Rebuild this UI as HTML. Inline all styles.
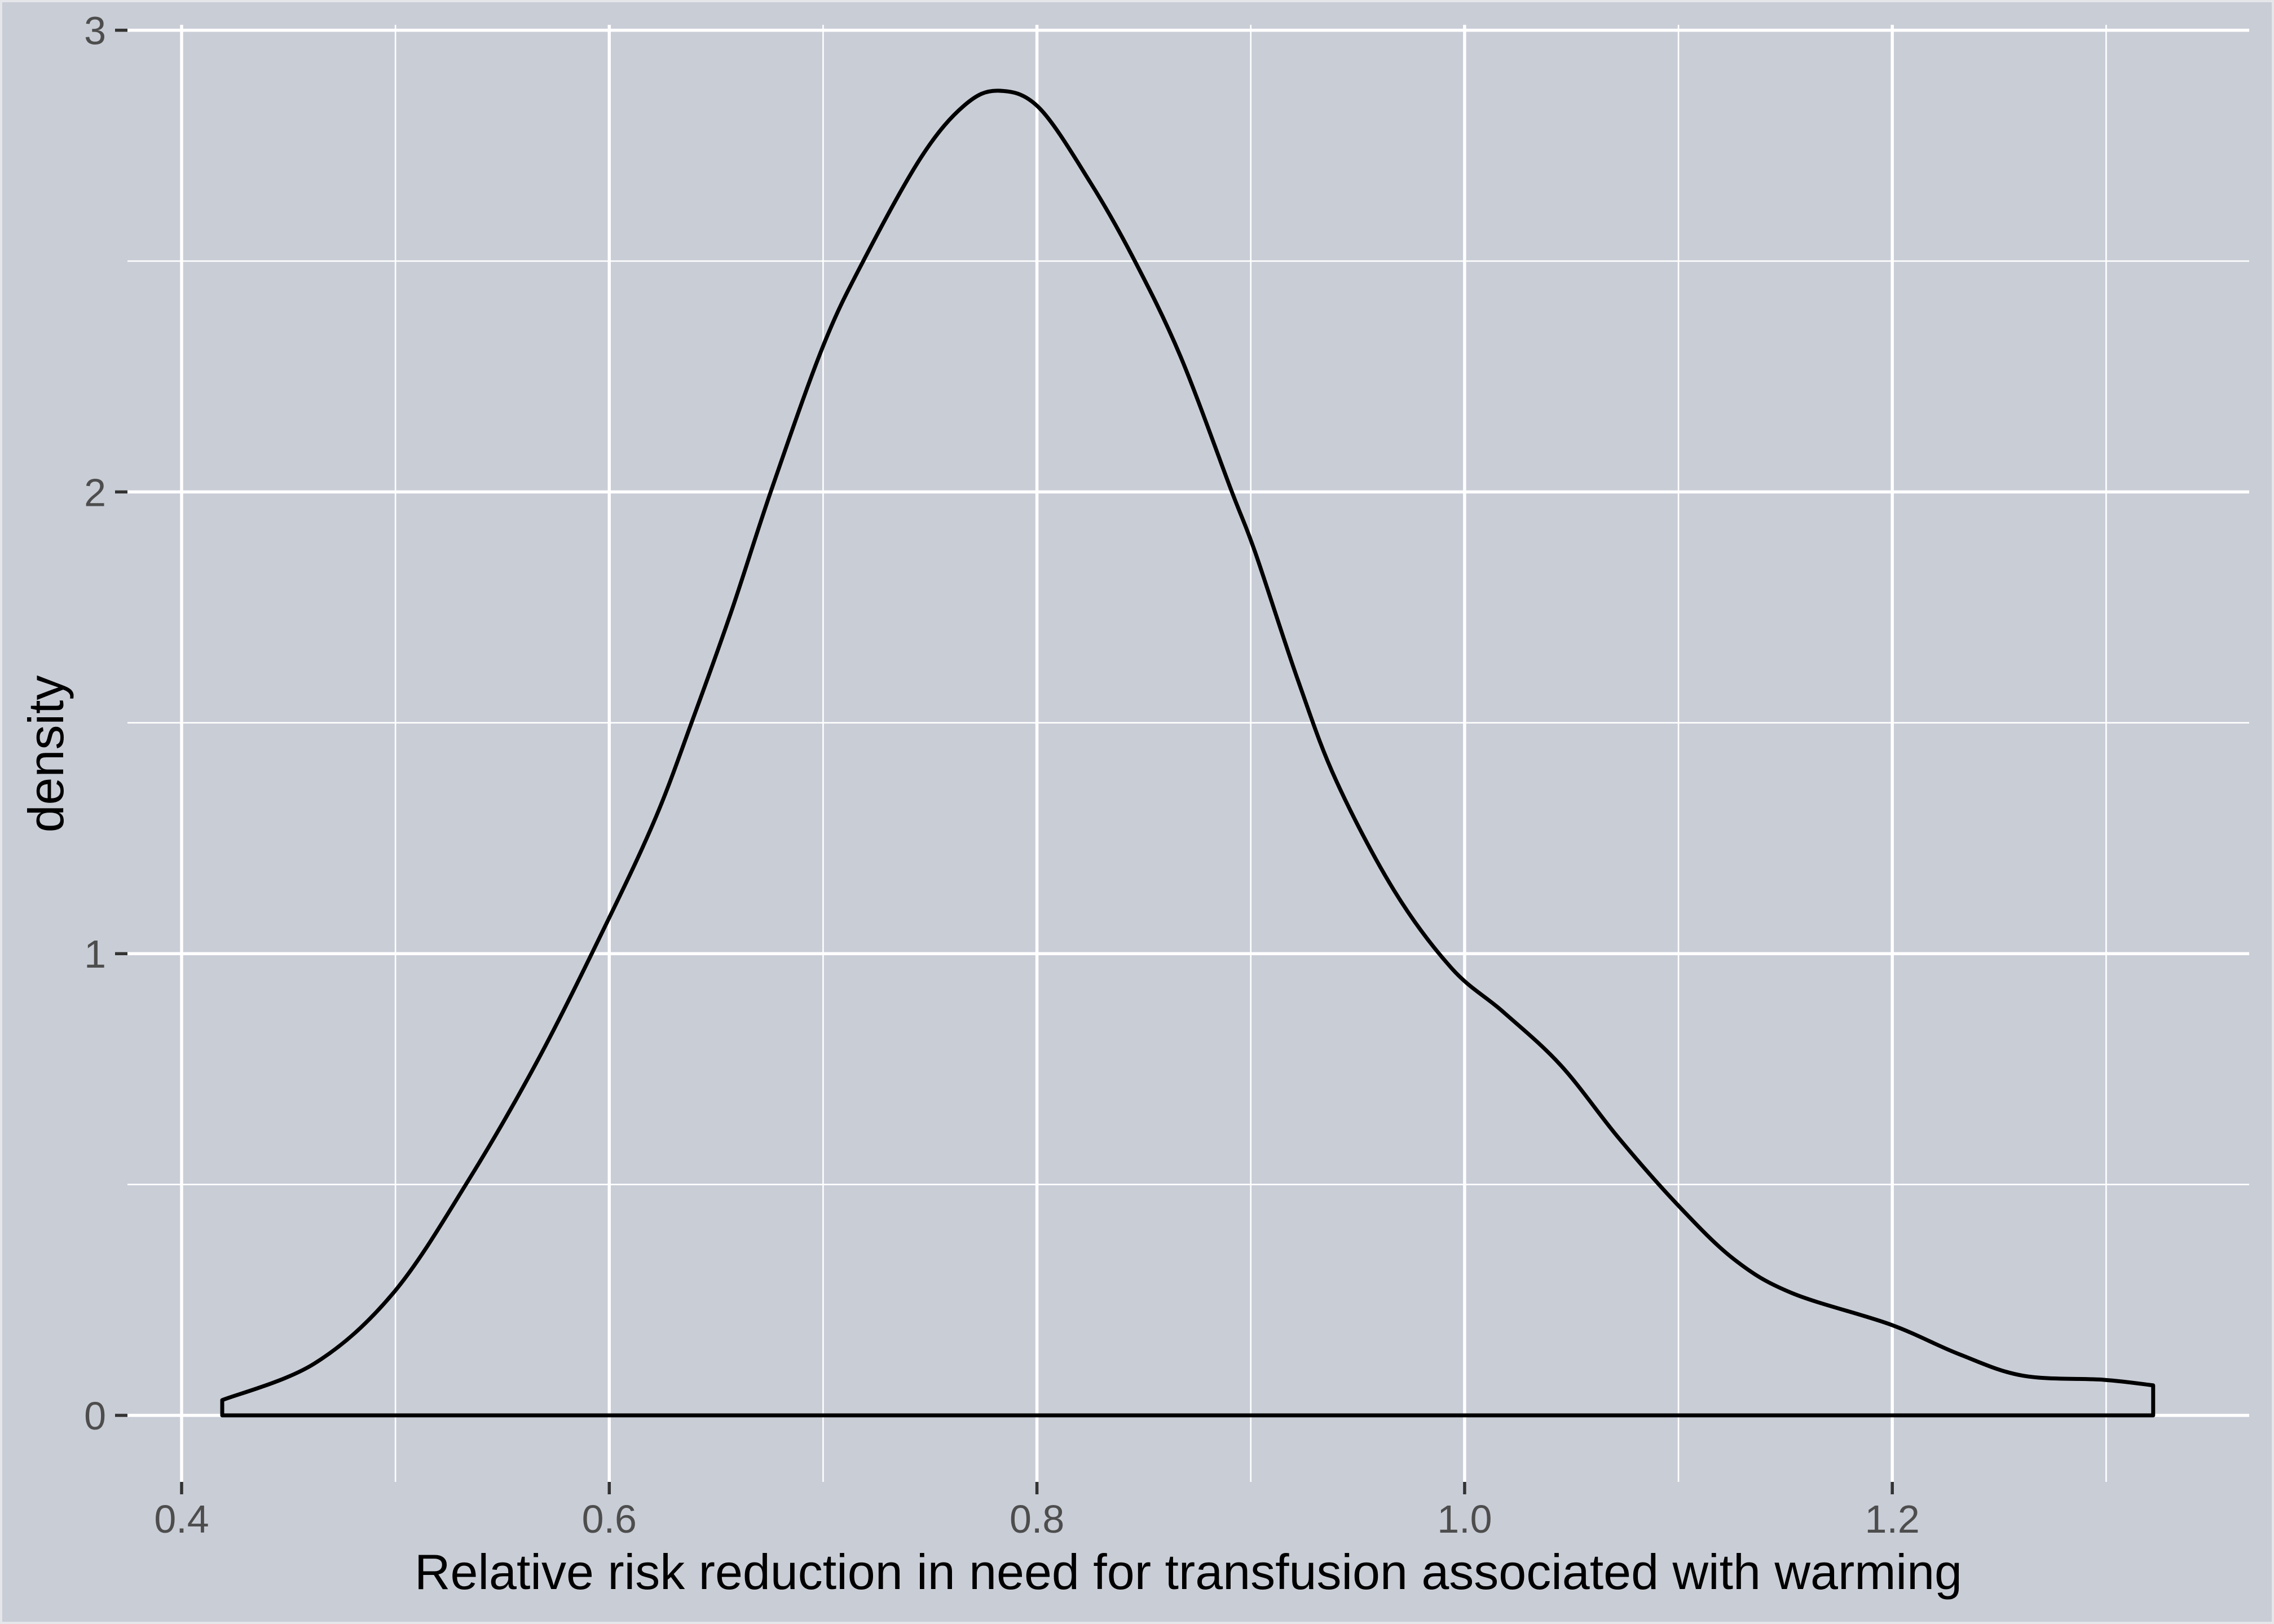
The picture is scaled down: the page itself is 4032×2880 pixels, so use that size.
<!DOCTYPE html>
<html><head><meta charset="utf-8"><style>
html,body{margin:0;padding:0;background:#c9cdd6;}
svg{display:block;font-family:"Liberation Sans",sans-serif;}
</style></head><body>
<svg id="chart" width="4032" height="2880" viewBox="0 0 4032 2880" xmlns="http://www.w3.org/2000/svg">
<rect x="0" y="0" width="4032" height="2880" fill="#c9cdd6" stroke="#e4e6ea" stroke-width="8"/>
<g id="grid"></g>
<g id="marks"></g>
<g id="axes"></g>
<text x="2107" y="2818" font-size="88" text-anchor="middle" fill="#000">Relative risk reduction in need for transfusion associated with warming</text>
<text x="0" y="0" font-size="88" text-anchor="middle" fill="#000" transform="translate(112,1337) rotate(-90)">density</text>
</svg>
<script>
const xValues = [0.419,0.462,0.499,0.534,0.567,0.600,0.622,0.639,0.657,0.676,0.700,0.719,0.746,0.766,0.782,0.801,0.825,0.845,0.867,0.891,0.902,0.922,0.940,0.967,0.994,1.018,1.045,1.072,1.099,1.126,1.153,1.199,1.231,1.261,1.299,1.322];
const densityValues = [0.033,0.112,0.265,0.508,0.773,1.078,1.298,1.507,1.74,2.007,2.316,2.502,2.726,2.837,2.869,2.832,2.670,2.507,2.295,2.002,1.870,1.593,1.374,1.137,0.968,0.874,0.758,0.601,0.459,0.338,0.265,0.197,0.133,0.086,0.077,0.065];
const xTicks = [0.4,0.6,0.8,1.0,1.2];
const xTickLabels = ["0.4","0.6","0.8","1.0","1.2"];
const xMinor = [0.5,0.7,0.9,1.1,1.3];
const yTicks = [0,1,2,3];
const yTickLabels = ["0","1","2","3"];
const yMinor = [0.5,1.5,2.5];

const NS="http://www.w3.org/2000/svg";
const PL=226,PR=3988,PT=44,PB=2628;
function sx(v){return 322+(v-0.4)*3791.5;}
function sy(v){return 2510-v*818.8;}
function mk(tag,attrs,parent){const e=document.createElementNS(NS,tag);for(const k in attrs)e.setAttribute(k,attrs[k]);parent.appendChild(e);return e;}
const grid=document.getElementById('grid'),axes=document.getElementById('axes'),marks=document.getElementById('marks');
yMinor.forEach(v=>{const l=mk('line',{x1:PL,x2:PR,y1:sy(v),y2:sy(v),stroke:'#fff','stroke-width':2.6},grid);

});
xMinor.forEach(v=>{const l=mk('line',{x1:sx(v),x2:sx(v),y1:PT,y2:PB,stroke:'#fff','stroke-width':2.6},grid);

});
yTicks.forEach((v,i)=>{const l=mk('line',{x1:PL,x2:PR,y1:sy(v),y2:sy(v),stroke:'#fff','stroke-width':5.5},grid);


const t=mk('line',{x1:204,x2:PL,y1:sy(v),y2:sy(v),stroke:'#333','stroke-width':5.5},axes);


const tx=mk('text',{x:188,y:sy(v)+25,'font-size':70,'text-anchor':'end',fill:'#4d4d4d'},axes);tx.textContent=yTickLabels[i];

});
xTicks.forEach((v,i)=>{const l=mk('line',{x1:sx(v),x2:sx(v),y1:PT,y2:PB,stroke:'#fff','stroke-width':5.5},grid);


const t=mk('line',{x1:sx(v),x2:sx(v),y1:PB,y2:PB+22,stroke:'#333','stroke-width':5.5},axes);


const tx=mk('text',{x:sx(v),y:2718,'font-size':70,'text-anchor':'middle',fill:'#4d4d4d'},axes);tx.textContent=xTickLabels[i];

});
const pts=xValues.map((x,i)=>[sx(x),sy(densityValues[i])]);
let d=`M${sx(xValues[0])},${sy(0)} L${pts[0][0]},${pts[0][1]}`;
for(let i=0;i<pts.length-1;i++){const p0=pts[Math.max(0,i-1)],p1=pts[i],p2=pts[i+1],p3=pts[Math.min(pts.length-1,i+2)];
const c1=[p1[0]+(p2[0]-p0[0])/6,p1[1]+(p2[1]-p0[1])/6],c2=[p2[0]-(p3[0]-p1[0])/6,p2[1]-(p3[1]-p1[1])/6];
d+=` C${c1[0]},${c1[1]} ${c2[0]},${c2[1]} ${p2[0]},${p2[1]}`;}
d+=` L${sx(xValues[xValues.length-1])},${sy(0)} Z`;
const path=mk('path',{d:d,fill:'none',stroke:'#000','stroke-width':7,'stroke-linejoin':'round'},marks);


</script>
</body></html>
